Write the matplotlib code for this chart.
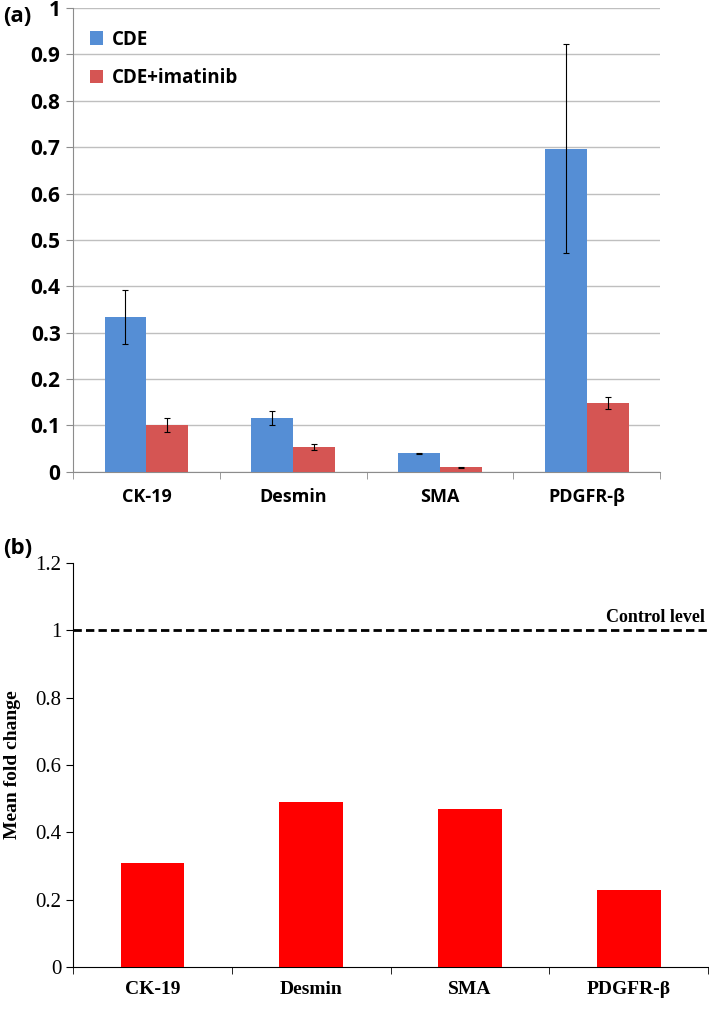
import matplotlib
matplotlib.use("Agg")
import matplotlib.pyplot as plt
import numpy as np

#%% data
markers = ["CK-19", "Desmin", "SMA", "PDGFR-\u03b2"]
cde = [0.333, 0.116, 0.040, 0.697]
cde_err = [0.058, 0.015, 0.001, 0.225]
cde_imatinib = [0.100, 0.053, 0.009, 0.148]
cde_imatinib_err = [0.015, 0.006, 0.001, 0.012]
fold_change = [0.31, 0.49, 0.47, 0.23]
control_level = 1.0

sans = "Open Sans"
serif = "Liberation Serif"

fig = plt.figure(figsize=(7.09, 10.10), dpi=100)

#%% panel (a)
ax1 = fig.add_axes([0.103, 0.533, 0.828, 0.459])
x = np.arange(len(markers))
w = 0.285
ax1.bar(x - w/2, cde, w, color="#558ed5", label="CDE", zorder=3)
ax1.bar(x + w/2, cde_imatinib, w, color="#d55553", label="CDE+imatinib", zorder=3)
ax1.errorbar(x - w/2, cde, yerr=cde_err, fmt="none", ecolor="black",
             elinewidth=0.8, capsize=2.5, capthick=0.8, zorder=4)
ax1.errorbar(x + w/2, cde_imatinib, yerr=cde_imatinib_err, fmt="none", ecolor="black",
             elinewidth=0.8, capsize=2.5, capthick=0.8, zorder=4)
ax1.set_xlim(-0.5, len(markers) - 0.5)
ax1.set_ylim(0, 1)
ax1.set_yticks(np.arange(0, 1.01, 0.1))
ax1.set_yticklabels(["0", "0.1", "0.2", "0.3", "0.4", "0.5", "0.6", "0.7", "0.8", "0.9", "1"],
                    fontfamily=sans, fontweight="bold", fontsize=15)
ax1.grid(axis="y", color="#bfbfbf", linewidth=1.0, zorder=0)
ax1.set_axisbelow(True)
for s in ["top", "right"]:
    ax1.spines[s].set_visible(False)
ax1.spines["left"].set_color("#8c8c8c")
ax1.spines["bottom"].set_color("#8c8c8c")
ax1.set_xticks(x)
ax1.set_xticklabels(markers, fontfamily=sans, fontweight="bold", fontsize=13)
ax1.tick_params(axis="x", length=0, pad=12)
ax1.set_xticks(np.arange(-0.5, len(markers), 1), minor=True)
ax1.tick_params(axis="x", which="minor", length=5, color="#8c8c8c")
ax1.tick_params(axis="y", length=5, color="#8c8c8c", pad=4)
leg = ax1.legend(loc="upper left", bbox_to_anchor=(0.0, 0.99), frameon=False,
                 handlelength=0.7, handleheight=0.7, handletextpad=0.45,
                 labelspacing=1.0, prop={"family": sans, "weight": "bold", "size": 13.5})
fig.text(0.004, 0.984, "(a)", fontfamily=sans, fontweight="bold", fontsize=16,
         va="center", ha="left")

#%% panel (b)
ax2 = fig.add_axes([0.103, 0.0426, 0.896, 0.40])
w2 = 0.40
ax2.bar(x, fold_change, w2, color="#ff0000", zorder=3)
ax2.axhline(control_level, color="black", linestyle=(0, (3, 1.5)), linewidth=2, zorder=4)
ax2.text(len(markers) - 0.52, control_level + 0.012, "Control level",
         fontfamily=serif, fontweight="bold", fontsize=13, ha="right", va="bottom")
ax2.set_xlim(-0.5, len(markers) - 0.5)
ax2.set_ylim(0, 1.2)
ax2.set_yticks(np.arange(0, 1.21, 0.2))
ax2.set_yticklabels(["0", "0.2", "0.4", "0.6", "0.8", "1", "1.2"], fontfamily=serif, fontsize=15)
for s in ["top", "right"]:
    ax2.spines[s].set_visible(False)
ax2.set_xticks(x)
ax2.set_xticklabels(markers, fontfamily=serif, fontweight="bold", fontsize=14)
ax2.tick_params(axis="x", length=0, pad=10)
ax2.set_xticks(np.arange(-0.5, len(markers), 1), minor=True)
ax2.tick_params(axis="x", which="minor", length=5)
ax2.tick_params(axis="y", length=5)
ax2.set_ylabel("Mean fold change", fontfamily=serif, fontweight="bold", fontsize=14, labelpad=10)
fig.text(0.004, 0.457, "(b)", fontfamily=sans, fontweight="bold", fontsize=16,
         va="center", ha="left")

fig.savefig("out.png", dpi=100)
